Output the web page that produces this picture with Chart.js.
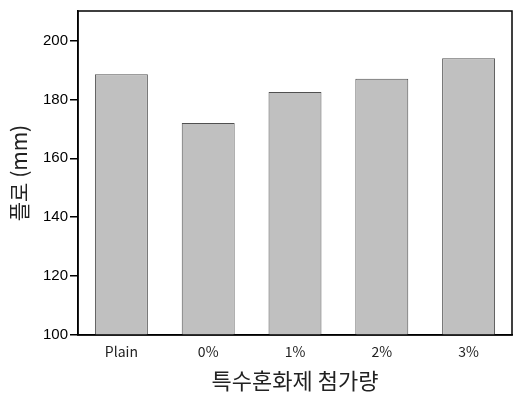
<!DOCTYPE html>
<html>
<head>
<meta charset="utf-8">
<script src="https://cdn.jsdelivr.net/npm/chart.js@4"></script>
<style>
  html, body { margin: 0; padding: 0; background: #fff; overflow: hidden; }
  #wrap { width: 513px; height: 394px; }
</style>
</head>
<body>
<div id="wrap"><canvas id="flowChart" width="513" height="394"></canvas></div>
<script>
const categories = ['Plain', '0%', '1%', '2%', '3%'];
const flowValues = [188.5, 172, 182.5, 187, 194];
const yMin = 100;
const yMax = 210;
const yStep = 20;

// Draw the full box around the plot area
const frameBox = {
  id: 'frameBox',
  afterDraw(chart) {
    const { ctx, chartArea } = chart;
    ctx.save();
    ctx.strokeStyle = '#000';
    ctx.lineWidth = 1.5;
    ctx.strokeRect(chartArea.left, chartArea.top, chartArea.right - chartArea.left, chartArea.bottom - chartArea.top);
    ctx.restore();
  }
};

const ctx = document.getElementById('flowChart').getContext('2d');
new Chart(ctx, {
  type: 'bar',
  data: {
    labels: categories,
    datasets: [{
      data: flowValues,
      backgroundColor: '#c0c0c0',
      borderColor: '#505050',
      borderWidth: 1,
      barPercentage: 0.61,
      categoryPercentage: 1
    }]
  },
  options: {
    responsive: false,
    animation: false,
    layout: { padding: { top: 9, right: 1, left: 0, bottom: 0 } },
    plugins: {
      legend: { display: false },
      tooltip: { enabled: false }
    },
    scales: {
      x: {
        grid: { display: false, drawTicks: false },
        border: { display: true, color: '#000', width: 1.5 },
        ticks: {
          color: '#222',
          padding: 8,
          font: { family: '"Noto Sans CJK KR", "Open Sans", sans-serif', size: 14 }
        },
        title: {
          display: true,
          text: '특수혼화제 첨가량',
          color: '#222',
          padding: { top: 0, bottom: 0 },
          font: { family: '"Noto Sans CJK KR", sans-serif', size: 22 }
        },
        afterFit(scale) { scale.height = 59; }
      },
      y: {
        min: yMin,
        max: yMax,
        grid: { display: true, drawOnChartArea: false, drawTicks: true, tickLength: 8, color: '#000', lineWidth: 1.5 },
        border: { display: true, color: '#000', width: 1.5 },
        ticks: {
          stepSize: yStep,
          includeBounds: false,
          color: '#000',
          padding: 2,
          font: { family: '"Liberation Sans", Arial, sans-serif', size: 15 }
        },
        title: {
          display: true,
          text: '플로 (mm)',
          color: '#222',
          padding: { top: 6, bottom: 0 },
          font: { family: '"Noto Sans CJK KR", sans-serif', size: 21 }
        },
        afterFit(scale) { scale.width = 78; }
      }
    }
  },
  plugins: [frameBox]
});
</script>
</body>
</html>
